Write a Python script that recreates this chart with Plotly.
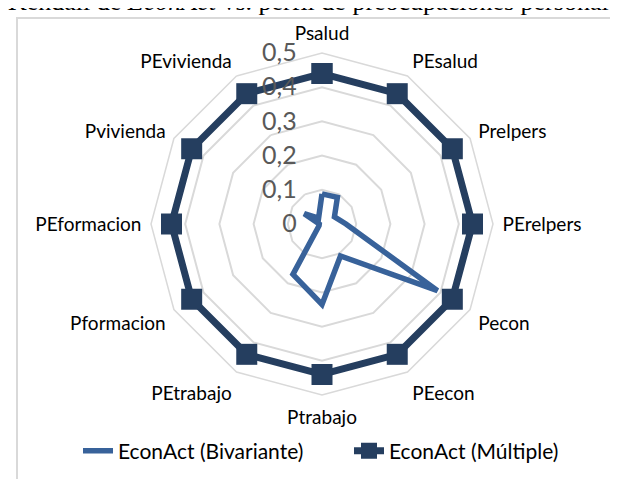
import plotly.graph_objects as go

categories = ["Psalud", "PEsalud", "Prelpers", "PErelpers", "Pecon", "PEecon",
              "Ptrabajo", "PEtrabajo", "Pformacion", "PEformacion", "Pvivienda", "PEvivienda"]
bivariante = [0.088, 0.09, 0.042, 0.07, 0.39, 0.108, 0.235, 0.17, 0.01, 0.008, 0.06, 0.02]
multiple = [0.44] * 12
radial_ticks = [0, 0.1, 0.2, 0.3, 0.4, 0.5]
radial_ticktext = ["0", "0,1", "0,2", "0,3", "0,4", "0,5"]

W, H = 618, 479
cx, cy, R = 314, 216, 171

fig = go.Figure()
fig.add_trace(go.Scatterpolar(
    r=bivariante + bivariante[:1], theta=categories + categories[:1],
    mode="lines", name="EconAct (Bivariante)",
    line=dict(color="#38629A", width=5.5, shape="linear"),
))
fig.add_trace(go.Scatterpolar(
    r=multiple + multiple[:1], theta=categories + categories[:1],
    mode="lines+markers", name="EconAct (Múltiple)",
    line=dict(color="#253E5F", width=7),
    marker=dict(symbol="square", size=21, color="#253E5F"),
))

fig.update_layout(
    width=W, height=H,
    margin=dict(l=0, r=0, t=0, b=0),
    paper_bgcolor="white", plot_bgcolor="white",
    font=dict(family="Lato", size=19, color="#000000"),
    polar=dict(
        domain=dict(x=[(cx - R) / W, (cx + R) / W], y=[1 - (cy + R) / H, 1 - (cy - R) / H]),
        bgcolor="white",
        gridshape="linear",
        angularaxis=dict(
            rotation=90, direction="clockwise",
            showgrid=False, showline=True, linecolor="#D9D9D9", linewidth=1.5,
            ticks="outside", ticklen=5, tickcolor="rgba(0,0,0,0)",
            tickfont=dict(family="Lato", size=19, color="#000000"),
        ),
        radialaxis=dict(
            range=[0, 0.5], angle=90, side="counterclockwise",
            tickvals=radial_ticks, ticktext=radial_ticktext, tickangle=90,
            showline=False, ticks="outside", ticklen=16, tickcolor="rgba(0,0,0,0)",
            gridcolor="#D9D9D9", gridwidth=1.5,
            tickfont=dict(family="Lato", size=25, color="#595959"),
        ),
    ),
    showlegend=True,
    legend=dict(
        orientation="h", x=70 / W, xanchor="left", y=1 - 443 / H, yanchor="middle",
        entrywidth=226, entrywidthmode="pixels",
        font=dict(family="Lato", size=21, color="#000000"),
        bgcolor="rgba(0,0,0,0)",
    ),
    shapes=[dict(type="rect", xref="paper", yref="paper",
                 x0=9 / W, x1=1.05, y0=-0.05, y1=1 - 10 / H,
                 line=dict(color="#D9D9D9", width=2), layer="below")],
    annotations=[dict(
        text="Kendall de <i>EconAct</i> vs. perfil de preocupaciones personales",
        xref="paper", yref="paper", x=-2 / W, xanchor="left",
        y=1 - 10 / H, yanchor="bottom", showarrow=False,
        font=dict(family="Liberation Serif", size=26, color="#000000"),
    )],
)

fig.write_html("out.html")
